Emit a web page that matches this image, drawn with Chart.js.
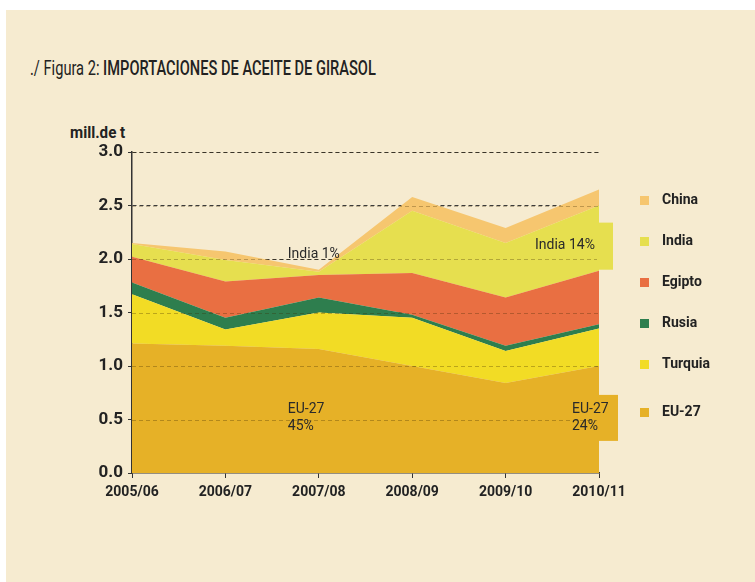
<!DOCTYPE html>
<html>
<head>
<meta charset="utf-8">
<script src="https://cdn.jsdelivr.net/npm/chart.js@4.4.1/dist/chart.umd.min.js"></script>
<style>
  html, body { margin: 0; padding: 0; background: #fff; }
  body { width: 755px; height: 582px; position: relative; overflow: hidden;
         font-family: 'Roboto', 'DejaVu Sans', sans-serif; color: #222; }
  #panel { position: absolute; left: 6px; top: 10px; right: 0; bottom: 0; background: #F6EBD0; }
  #title { position: absolute; left: 30px; top: 56px; font-size: 20px; white-space: nowrap; transform-origin: left top; }
  #title b { font-weight: 500; }
  #unit { position: absolute; left: 70px; top: 123px; font-size: 16px; font-weight: bold; white-space: nowrap; transform-origin: left top; }
  #chartBox { position: absolute; left: 0; top: 0; width: 755px; height: 582px; }
  #legend { position: absolute; left: 640px; top: 191px; }
  .item { height: 41px; display: flex; align-items: flex-start; font-size: 14px; font-weight: bold; }
  .item:last-child { margin-top: 7px; }
  .sw { width: 9px; height: 9px; margin-top: 5px; margin-right: 13px; }
</style>
</head>
<body>
<div id="panel"></div>
<div id="title">./ Figura 2: <b>IMPORTACIONES DE ACEITE DE GIRASOL</b></div>
<div id="unit">mill.de t</div>
<div id="chartBox"><canvas id="areaChart" width="755" height="582"></canvas></div>
<div id="legend"></div>
<script>
const labelsX = ['2005/06', '2006/07', '2007/08', '2008/09', '2009/10', '2010/11']

// million tonnes, bottom to top of the stack
const eu27    = [1.21, 1.19, 1.16, 1.00, 0.84, 1.00]
const turquia = [0.46, 0.15, 0.34, 0.45, 0.30, 0.35]
const rusia   = [0.11, 0.11, 0.14, 0.03, 0.05, 0.04]
const egipto  = [0.24, 0.34, 0.21, 0.39, 0.45, 0.50]
const india   = [0.12, 0.20, 0.03, 0.58, 0.51, 0.61]
const china   = [0.01, 0.08, 0.02, 0.13, 0.14, 0.15]

const seriesNames = ['EU-27', 'Turquia', 'Rusia', 'Egipto', 'India', 'China']
const seriesData = [eu27, turquia, rusia, egipto, india, china]
const seriesColors = ['#E6B127', '#F2DC25', '#2E7E4E', '#E96F42', '#E6DF4F', '#F6C66F']

const yTicks = [0, 0.5, 1.0, 1.5, 2.0, 2.5, 3.0]

const fontFamily = "'Roboto', 'DejaVu Sans', sans-serif"

// the original uses a condensed face, squeeze the html texts a bit
function squeeze(id, width) {
  const el = document.getElementById(id)
  el.style.transform = 'scaleX(' + (width / el.offsetWidth) + ')'
}
squeeze('title', 346)
squeeze('unit', 55)

// legend, top = China, bottom = EU-27
const legend = document.getElementById('legend')
for (let i = seriesNames.length - 1; i >= 0; i--) {
  const div = document.createElement('div')
  div.className = 'item'
  div.innerHTML = '<span class="sw" style="background:' + seriesColors[i] + '"></span>' + seriesNames[i]
  legend.appendChild(div)
}

// patches + labels inside the plot
const notes = [
  { lines: ['India 1%'], idx: 2, value: 2.0, dx: -31, dy: -5 },
  { lines: ['India 14%'], idx: 5, value: 2.13, dx: -64, dy: 0, patch: 4, pTop: 2.34, pBottom: 1.90, pWidth: 14 },
  { lines: ['EU-27', '45%'], idx: 2, value: 0.5, dx: -31, dy: -10 },
  { lines: ['EU-27', '24%'], idx: 5, value: 0.5, dx: -27, dy: -10, patch: 0, pTop: 0.73, pBottom: 0.30, pWidth: 19 },
]

const overlayPlugin = {
  id: 'overlay',
  afterDatasetsDraw(chart) {
    const c = chart.ctx
    const area = chart.chartArea
    const x = chart.scales.x
    const y = chart.scales.y
    c.save()
    // faint dashes that show through the areas
    c.strokeStyle = 'rgba(60,40,0,0.3)'
    c.lineWidth = 1
    c.setLineDash([4, 3])
    yTicks.forEach(v => {
      if (v === 0) return
      const py = Math.round(y.getPixelForValue(v)) + 0.5
      c.beginPath()
      c.moveTo(area.left, py)
      c.lineTo(area.right, py)
      c.stroke()
    })
    c.setLineDash([])
    notes.forEach(n => {
      if (n.patch === undefined) return
      const px = x.getPixelForValue(n.idx)
      const top = y.getPixelForValue(n.pTop)
      const bottom = y.getPixelForValue(n.pBottom)
      c.fillStyle = seriesColors[n.patch]
      c.fillRect(px - 2, top, n.pWidth + 2, bottom - top)
    })
    c.fillStyle = '#2a2a2a'
    c.font = '14px ' + fontFamily
    c.textBaseline = 'middle'
    notes.forEach(n => {
      const px = x.getPixelForValue(n.idx) + n.dx
      const py = y.getPixelForValue(n.value) + n.dy
      n.lines.forEach((t, k) => c.fillText(t, px, py + k * 17))
    })
    c.restore()
  }
}

const ctx = document.getElementById('areaChart')

new Chart(ctx, {
  type: 'line',
  data: {
    labels: labelsX,
    datasets: seriesData.map((d, i) => ({
      label: seriesNames[i],
      data: d,
      backgroundColor: seriesColors[i],
      borderWidth: 0,
      pointRadius: 0,
      tension: 0,
      fill: i === 0 ? 'origin' : '-1',
    })),
  },
  options: {
    responsive: false,
    animation: false,
    layout: {
      padding: { top: 152, right: 156, bottom: 60, left: 60 },
    },
    scales: {
      x: {
        offset: false,
        afterFit: (scale) => { scale.height = 49 },
        grid: {
          drawOnChartArea: false,
          drawTicks: true,
          tickLength: 5,
          tickColor: '#333',
        },
        border: { color: '#333', width: 1.5 },
        ticks: {
          color: '#222',
          padding: 6,
          maxRotation: 0,
          font: { size: 14, weight: 'bold', family: fontFamily },
        },
      },
      y: {
        stacked: true,
        min: 0,
        max: 3,
        afterFit: (scale) => { scale.width = 72 },
        afterBuildTicks: (scale) => { scale.ticks = yTicks.map(v => ({ value: v })) },
        grid: {
          color: (c) => c.tick && c.tick.value === 0 ? 'rgba(0,0,0,0)' : '#3a3a3a',
          lineWidth: 1,
          tickLength: 4,
          tickColor: '#333',
          tickBorderDash: [],
        },
        border: { color: '#333', width: 1.5, dash: [4, 3] },
        ticks: {
          color: '#222',
          padding: 5,
          callback: (v) => Number(v).toFixed(1),
          font: { size: 17, weight: 'bold', family: fontFamily },
        },
      },
    },
    plugins: {
      legend: { display: false },
      tooltip: { enabled: false },
      filler: { propagate: false },
    },
  },
  plugins: [overlayPlugin],
})
</script>
</body>
</html>
